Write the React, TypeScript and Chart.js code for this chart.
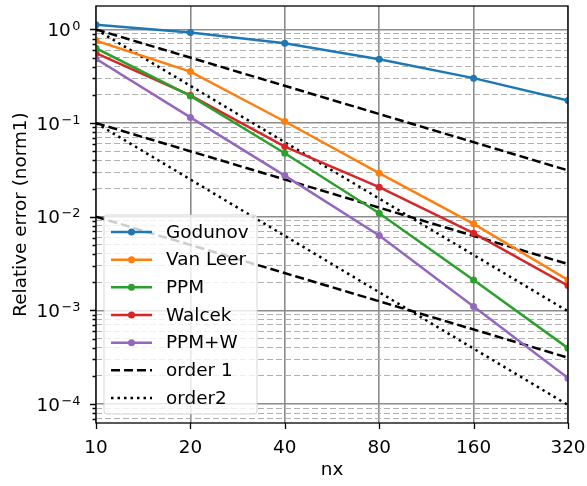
import React, { useEffect, useRef } from 'react';
import { Chart, registerables } from 'chart.js';

Chart.register(...registerables);

// ---------- data ----------
const nx = [10, 20, 40, 80, 160, 320];
const godunov = [1.12, 0.93, 0.712, 0.48, 0.302, 0.174];
const vanLeer = [0.76, 0.355, 0.104, 0.0292, 0.0084, 0.00211];
const ppm = [0.63, 0.195, 0.0477, 0.0109, 0.00211, 0.000395];
const walcek = [0.557, 0.198, 0.0562, 0.0207, 0.00667, 0.00184];
const ppmW = [0.485, 0.115, 0.0275, 0.0063, 0.0011, 0.000189];
const order1Starts = [1, 0.1, 0.01];
const order2Starts = [1, 0.1];
const xTickValues = [10, 20, 40, 80, 160, 320];
const yDecadeExponents = ['0', '−1', '−2', '−3', '−4'];
const Y_MIN = 6.27e-5;
const Y_MAX = 1.78;

const FONT = 'DejaVu Sans';
const FS = 18.4;
const FS_SUP = 12.9;

const methods = [
  { label: 'Godunov', color: '#1f77b4', values: godunov },
  { label: 'Van Leer', color: '#ff7f0e', values: vanLeer },
  { label: 'PPM', color: '#2ca02c', values: ppm },
  { label: 'Walcek', color: '#d62728', values: walcek },
  { label: 'PPM+W', color: '#9467bd', values: ppmW },
];

const DASH1 = [9, 4];
const DOT2 = [2.5, 4];

function isDecade(v: number) {
  const l = Math.log10(v);
  return Math.abs(l - Math.round(l)) < 1e-9;
}

const framePlugin = {
  id: 'frameTicksLegend',
  afterDatasetsDraw(chart: any) {
    const { ctx, chartArea: a } = chart;
    const xs = chart.scales.x;
    const ys = chart.scales.y;
    ctx.save();
    // tick marks
    ctx.strokeStyle = '#000';
    ctx.lineWidth = 1.3;
    ctx.setLineDash([]);
    ctx.beginPath();
    xs.ticks.forEach((t: any) => {
      const px = Math.round(xs.getPixelForValue(t.value)) + 0.5;
      ctx.moveTo(px, a.bottom);
      ctx.lineTo(px, a.bottom + 6);
    });
    ys.ticks.forEach((t: any) => {
      const py = Math.round(ys.getPixelForValue(t.value)) + 0.5;
      const len = isDecade(t.value) ? 6 : 3.5;
      ctx.moveTo(a.left, py);
      ctx.lineTo(a.left - len, py);
    });
    ctx.stroke();
    // frame
    ctx.lineWidth = 1.3;
    ctx.strokeRect(a.left, a.top, a.right - a.left, a.bottom - a.top);

    // y decade labels: 10 with superscript exponent
    ctx.fillStyle = '#000';
    ctx.textBaseline = 'alphabetic';
    ctx.textAlign = 'left';
    ys.ticks.forEach((t: any) => {
      if (!isDecade(t.value)) return;
      const e = Math.round(Math.log10(t.value));
      const sup = yDecadeExponents[-e];
      if (sup === undefined) return;
      const py = ys.getPixelForValue(t.value);
      const rightX = a.left - 15.5;
      ctx.font = `${FS_SUP}px "${FONT}"`;
      const sw = ctx.measureText(sup).width;
      ctx.font = `${FS}px "${FONT}"`;
      const bw = ctx.measureText('10').width;
      const base = py + 6.7;
      ctx.fillText('10', rightX - sw - 1.5 - bw, base);
      ctx.font = `${FS_SUP}px "${FONT}"`;
      ctx.fillText(sup, rightX - sw, base - 6.2);
    });

    // legend
    const entries = chart.data.datasets.filter((d: any) => d.showInLegend);
    const lx = a.left + 8;
    const rowH = 27.67;
    const h = 199;
    const w = 153;
    const ly = a.bottom - 9 - h;
    const r = 3;
    ctx.beginPath();
    ctx.moveTo(lx + r, ly);
    ctx.lineTo(lx + w - r, ly);
    ctx.arcTo(lx + w, ly, lx + w, ly + r, r);
    ctx.lineTo(lx + w, ly + h - r);
    ctx.arcTo(lx + w, ly + h, lx + w - r, ly + h, r);
    ctx.lineTo(lx + r, ly + h);
    ctx.arcTo(lx, ly + h, lx, ly + h - r, r);
    ctx.lineTo(lx, ly + r);
    ctx.arcTo(lx, ly, lx + r, ly, r);
    ctx.closePath();
    ctx.fillStyle = 'rgba(255,255,255,0.8)';
    ctx.fill();
    ctx.strokeStyle = 'rgba(204,204,204,0.8)';
    ctx.lineWidth = 1;
    ctx.stroke();

    ctx.font = `${FS}px "${FONT}"`;
    ctx.textBaseline = 'middle';
    ctx.textAlign = 'left';
    entries.forEach((d: any, i: number) => {
      const cy = ly + 17 + i * rowH;
      ctx.strokeStyle = d.borderColor;
      ctx.lineWidth = d.borderWidth;
      ctx.setLineDash(d.borderDash || []);
      ctx.beginPath();
      ctx.moveTo(lx + 7, cy);
      ctx.lineTo(lx + 48, cy);
      ctx.stroke();
      ctx.setLineDash([]);
      if (d.pointRadius > 0) {
        ctx.fillStyle = d.borderColor;
        ctx.beginPath();
        ctx.arc(lx + 27.5, cy, d.pointRadius, 0, Math.PI * 2);
        ctx.fill();
      }
      ctx.fillStyle = '#000';
      ctx.fillText(d.label, lx + 62, cy + 1);
    });
    ctx.restore();
  },
};

export default function App() {
  const ref = useRef<HTMLCanvasElement | null>(null);

  useEffect(() => {
    if (!ref.current) return;
    const datasets: any[] = [];
    methods.forEach((m) => {
      datasets.push({
        label: m.label,
        data: nx.map((x, i) => ({ x, y: m.values[i] })),
        borderColor: m.color,
        backgroundColor: m.color,
        pointBackgroundColor: m.color,
        pointBorderColor: m.color,
        borderWidth: 2.5,
        pointRadius: 3.5,
        pointBorderWidth: 0,
        clip: 0,
        showInLegend: true,
      });
    });
    const x0 = nx[0];
    const x1 = nx[nx.length - 1];
    order1Starts.forEach((c, i) => {
      datasets.push({
        label: 'order 1',
        data: [
          { x: x0, y: c },
          { x: x1, y: c * (x0 / x1) },
        ],
        borderColor: '#000',
        backgroundColor: '#000',
        borderWidth: 2.5,
        borderDash: DASH1,
        pointRadius: 0,
        clip: 0,
        showInLegend: i === 0,
      });
    });
    order2Starts.forEach((c, i) => {
      datasets.push({
        label: 'order2',
        data: [
          { x: x0, y: c },
          { x: x1, y: c * Math.pow(x0 / x1, 2) },
        ],
        borderColor: '#000',
        backgroundColor: '#000',
        borderWidth: 2.5,
        borderDash: DOT2,
        pointRadius: 0,
        clip: 0,
        showInLegend: i === 0,
      });
    });
    const chart = new Chart(ref.current, {
      type: 'line',
      data: { datasets },
      plugins: [framePlugin],
      options: {
        animation: false,
        responsive: false,
        devicePixelRatio: 1,
        layout: { padding: { left: 0, top: 6, right: 19, bottom: 0 } },
        plugins: { legend: { display: false }, tooltip: { enabled: false } },
        elements: { line: { tension: 0 } },
        scales: {
          x: {
            type: 'logarithmic',
            min: 10,
            max: 320,
            afterBuildTicks: (s: any) => {
              s.ticks = xTickValues.map((v) => ({ value: v }));
            },
            afterFit: (s: any) => {
              s.height = 63;
              s.paddingLeft = 0;
              s.paddingRight = 0;
            },
            ticks: {
              autoSkip: false,
              maxRotation: 0,
              minRotation: 0,
              padding: 14.5,
              color: '#000',
              font: { family: FONT, size: FS },
              callback: (v: any) => String(v),
            },
            grid: { color: '#8c8c8c', lineWidth: 1.6, drawTicks: false },
            border: { display: false },
            title: {
              display: true,
              text: 'nx',
              color: '#000',
              font: { family: FONT, size: FS },
              padding: { top: 0, bottom: 5 },
            },
          },
          y: {
            type: 'logarithmic',
            min: Y_MIN,
            max: Y_MAX,
            afterBuildTicks: (s: any) => {
              const t: any[] = [];
              for (let e = -5; e <= 0; e++) {
                for (let m = 1; m <= 9; m++) {
                  const v = parseFloat((m * Math.pow(10, e)).toPrecision(6));
                  if (v >= Y_MIN && v <= Y_MAX) t.push({ value: v });
                }
              }
              s.ticks = t;
            },
            afterFit: (s: any) => {
              s.width = 96;
              s.paddingTop = 0;
              s.paddingBottom = 0;
            },
            ticks: {
              autoSkip: false,
              padding: 13,
              color: '#000',
              font: { family: FONT, size: FS },
              callback: () => '',
            },
            grid: {
              drawTicks: false,
              color: (c: any) => (c.tick && isDecade(c.tick.value) ? '#8c8c8c' : '#b0b0b0'),
              lineWidth: (c: any) => (c.tick && isDecade(c.tick.value) ? 1.6 : 1.1),
            },
            border: {
              display: false,
              dash: (c: any) => (c.tick && !isDecade(c.tick.value) ? [6, 3] : []),
            },
            title: {
              display: true,
              text: 'Relative error (norm1)',
              color: '#000',
              font: { family: FONT, size: FS },
              padding: { top: 10, bottom: 0 },
            },
          },
        },
      } as any,
    });
    return () => chart.destroy();
  }, []);

  return (
    <div style={{ position: 'fixed', left: 0, top: 0, width: 587, height: 486, background: '#fff' }}>
      <canvas ref={ref} width={587} height={486} style={{ width: 587, height: 486 }} />
    </div>
  );
}
